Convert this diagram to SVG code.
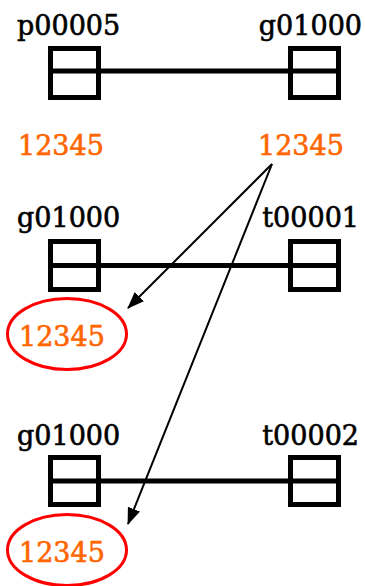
<svg xmlns="http://www.w3.org/2000/svg" width="365" height="586" viewBox="0 0 365 586">
<style>
.lbl{font-family:"DejaVu Serif","Liberation Serif",serif;font-size:27px;fill:#000;stroke:#000;stroke-width:0.6}
.num{font-family:"DejaVu Serif","Liberation Serif",serif;font-size:27px;fill:#ff6600;stroke:#ff6600;stroke-width:0.6}
.box{fill:none;stroke:#000;stroke-width:5}
.bar{stroke:#000;stroke-width:5}
.ell{fill:none;stroke:#ff0000;stroke-width:3}
.arr{stroke:#000;stroke-width:2;fill:none;marker-end:url(#ah)}
</style>
<defs>
<marker id="ah" markerWidth="17" markerHeight="13" refX="16" refY="6.5" orient="auto" markerUnits="userSpaceOnUse">
<path d="M0,0 L17,6.5 L0,13 Z" fill="#000"/>
</marker>
</defs>
<g id="row1">
<g id="p00005"><text class="lbl" x="17" y="35">p00005</text><rect class="box" x="50.5" y="48.5" width="48" height="49"/></g>
<g id="g01000a"><text class="lbl" x="362" y="35" text-anchor="end">g01000</text><rect class="box" x="290.5" y="48.5" width="48" height="49"/></g>
<g id="num1"><text class="num" x="18" y="155">12345</text></g>
<g id="num2"><text class="num" x="258" y="155">12345</text></g>
</g>
<g id="row2">
<g id="g01000b"><text class="lbl" x="17" y="227">g01000</text><rect class="box" x="50.5" y="241.5" width="48" height="48"/></g>
<g id="t00001"><text class="lbl" x="359" y="227" text-anchor="end">t00001</text><rect class="box" x="290.5" y="241.5" width="48" height="48"/></g>
<g id="num3"><ellipse class="ell" cx="67" cy="334" rx="59.5" ry="35.5"/><text class="num" x="19" y="346">12345</text></g>
</g>
<g id="row3">
<g id="g01000c"><text class="lbl" x="17" y="445">g01000</text><rect class="box" x="50.5" y="457.5" width="48" height="47"/></g>
<g id="t00002"><text class="lbl" x="359" y="445" text-anchor="end">t00002</text><rect class="box" x="290.5" y="457.5" width="48" height="47"/></g>
<g id="num4"><ellipse class="ell" cx="67" cy="550" rx="59.5" ry="35.5"/><text class="num" x="19" y="562">12345</text></g>
</g>
<g id="connectors">
<line class="bar" x1="48" y1="71" x2="194" y2="71"/><line class="bar" x1="194" y1="71" x2="341" y2="71"/>
<line class="bar" x1="48" y1="265.5" x2="194" y2="265.5"/><line class="bar" x1="194" y1="265.5" x2="341" y2="265.5"/>
<line class="bar" x1="48" y1="481" x2="194" y2="481"/><line class="bar" x1="194" y1="481" x2="341" y2="481"/>
<line class="arr" x1="272" y1="164" x2="128" y2="308"/>
<line class="arr" x1="272" y1="164" x2="128" y2="524"/>
</g>
</svg>
